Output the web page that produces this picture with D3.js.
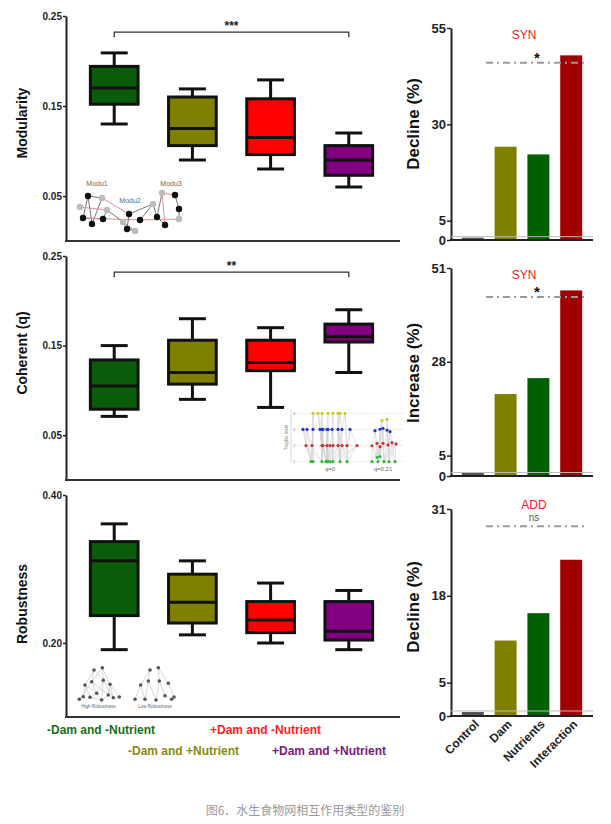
<!DOCTYPE html>
<html>
<head>
<meta charset="utf-8">
<script src="https://cdn.jsdelivr.net/npm/d3@7/dist/d3.min.js"></script>
<style>
  html, body { margin: 0; padding: 0; background: #fff; }
  svg { display: block; font-family: "Liberation Sans", Arial, sans-serif; }
</style>
</head>
<body>
<svg id="chart" width="611" height="824"></svg>
<script>
// ---------------- DATA ----------------
const groups = ["-Dam and -Nutrient", "-Dam and +Nutrient", "+Dam and -Nutrient", "+Dam and +Nutrient"];
const groupColors = ["#0a5c0a", "#808000", "#ff0000", "#800080"];
const legendColors = ["#1a6e1a", "#8a8a10", "#ff2020", "#7a1a7a"];

// box stats: [min, q1, median, q3, max]
const modularityStats = [
  [0.130, 0.152, 0.170, 0.194, 0.209],
  [0.090, 0.106, 0.125, 0.160, 0.169],
  [0.080, 0.096, 0.115, 0.158, 0.179],
  [0.060, 0.073, 0.090, 0.106, 0.120]
];
const coherenceStats = [
  [0.071, 0.079, 0.105, 0.134, 0.150],
  [0.090, 0.107, 0.120, 0.156, 0.180],
  [0.081, 0.122, 0.131, 0.156, 0.170],
  [0.120, 0.154, 0.160, 0.174, 0.190]
];
const robustnessStats = [
  [0.191, 0.237, 0.311, 0.337, 0.361],
  [0.211, 0.227, 0.255, 0.293, 0.311],
  [0.200, 0.214, 0.231, 0.256, 0.281],
  [0.191, 0.204, 0.216, 0.256, 0.271]
];
const modularityTicks = [0.05, 0.15, 0.25];
const coherenceTicks = [0.05, 0.15, 0.25];
const robustnessTicks = [0.20, 0.40];

const treatments = ["Control", "Dam", "Nutrients", "Interaction"];
const treatmentColors = ["#555555", "#808000", "#006000", "#a00000"];
const modularityDecline = [0.6, 24.2, 22.2, 47.9];
const coherenceIncrease = [0.8, 20.1, 24.0, 45.5];
const robustnessDecline = [0.6, 11.3, 15.4, 23.4];
const additiveExpected = [46.0, 43.9, 28.4];
const interactionTypes = ["SYN", "SYN", "ADD"];
const interactionSig = ["*", "*", "ns"];
const modularityBarTicks = [0, 5, 30, 55];
const coherenceBarTicks = [0, 5, 28, 51];
const robustnessBarTicks = [0, 5, 18, 31];

const caption = "图6．水生食物网相互作用类型的鉴别";

// inset pictures (local units)
const moduNodes = [
  [10,14,"b"],[5,36,"b"],[14,42,"b"],[25,37,"b"],[51,32,"b"],[62,38,"b"],[49,47,"b"],
  [79,35,"b"],[87,43,"b"],[97,13,"b"],[101,27,"b"],
  [2,25,"g"],[24,16,"g"],[29,28,"g"],[45,40,"g"],[57,49,"g"],[75,22,"g"],[84,11,"g"],[101,37,"g"]
];
const moduEdges = [
  [0,1,"g"],[0,2,"g"],[0,12,"g"],[12,2,"g"],[11,13,"p"],[12,4,"p"],[1,3,"g"],[1,5,"p"],
  [13,14,"g"],[14,15,"g"],[4,6,"g"],[6,15,"g"],[4,16,"g"],[16,7,"g"],[16,5,"g"],
  [17,8,"p"],[9,10,"g"],[7,8,"g"],[5,18,"p"],[18,10,"g"],[17,7,"g"],[14,6,"g"],[3,13,"g"],[17,9,"p"]
];
const moduLabels = [["Modu1",19,4],["Modu2",52,21],["Modu3",93,4]];

const trophicColors = ["#33bb33", "#cc3333", "#2233cc", "#cccc22"];
// [x, level]
const trophicDots = [
  [33,4],[38,4],[42,4],[48,4],[53,4],[58,4],[60,4],[65,4],
  [23,3],[27,3],[33,3],[40,3],[42,3],[43,3],[47,3],[48,3],[52,3],[58,3],[62,3],[70,3],
  [26,2],[32,2],[42,2],[43,2],[47,2],[50,2],[53,2],[58,2],[62,2],[67,2],[77,2],
  [31,1],[33,1],[42,1],[46,1],[47,1],[48,1],[50,1],[53,1],[60,1],[67,1],
  [102,3.54],[107,3.63],
  [95,2.92],[100,3.01],[103,3.07],[107,2.96],[110,2.86],
  [92,1.99],[97,2.14],[100,1.93],[103,2.14],[108,2.04],[112,2.18],[116,2.10],
  [97,1.27],[100,1.31],[92,1],[98,1],[104,1],[109,1],[115,1]
];
const trophicLevels = [1, 2, 3, 4];
const trophicQ = [["q=0", 50], ["q=0.21", 103]];

const robHighNodes = [[24,15],[32.3,12.7],[15,30],[21.7,26.7],[33.3,25.3],[40,29.3],[26.7,38.3],
  [13.3,41.7],[20,42.3],[38.3,40],[43.3,42.7],[9.3,44.3],[31.7,45],[49.3,42]];
const robHighEdges = [[0,2],[0,3],[0,4],[1,4],[1,5],[1,3],[2,7],[2,8],[2,6],[3,6],[3,9],[4,6],[4,10],
  [5,9],[5,13],[5,10],[6,12],[6,8],[7,11],[8,12],[9,12],[10,13],[3,11],[4,12]];
const robLowNodes = [[80,15],[88.3,12.7],[70.7,30],[78.3,26],[89.3,26],[98.3,28.3],[95,40.7],
  [104,42],[65,44.3],[75,44.3],[86,45],[101.7,44.3]];
const robLowEdges = [[0,2],[0,3],[1,4],[1,5],[2,8],[2,9],[3,9],[4,6],[4,10],[5,7],[6,11],[3,10]];
const robLabels = [["High Robustness", 28.3, 52.5], ["Low Robustness", 85, 52.5]];

// ---------------- DRAW ----------------
const svg = d3.select("#chart");

const leftX = d3.scaleBand().domain(groups).range([63, 400]).paddingInner(0.39).paddingOuter(0.35);
const rightX = d3.scaleBand().domain(treatments).range([451, 593]).paddingInner(0.33).paddingOuter(0.33);

const leftPanels = [
  { stats: modularityStats, ticks: modularityTicks, domain: [0, 0.25], range: [241, 16], label: "Modularity", sig: "***", labelY: 123 },
  { stats: coherenceStats, ticks: coherenceTicks, domain: [0, 0.25], range: [480, 256], label: "Coherent (q)", sig: "**", labelY: 353 },
  { stats: robustnessStats, ticks: robustnessTicks, domain: [0.10, 0.40], range: [717, 495], label: "Robustness", sig: null, labelY: 604 }
];

const axisX = 66;

leftPanels.forEach(p => {
  const y = d3.scaleLinear().domain(p.domain).range(p.range);
  const g = svg.append("g");

  const ax = g.append("g").attr("transform", `translate(${axisX},0)`)
    .call(d3.axisLeft(y).tickValues(p.ticks).tickFormat(d3.format(".2f")).tickSize(3).tickSizeOuter(0).tickPadding(1));
  ax.select(".domain").attr("stroke", "#222").attr("stroke-width", 2);
  ax.selectAll(".tick line").attr("stroke", "#222").attr("stroke-width", 1.5);
  ax.selectAll(".tick text").attr("font-size", 10).attr("font-weight", "bold").attr("fill", "#222")
    .attr("font-family", "'Liberation Sans', Arial, sans-serif");

  g.append("line").attr("x1", axisX - 1).attr("x2", 400)
    .attr("y1", p.range[0]).attr("y2", p.range[0])
    .attr("stroke", "#333").attr("stroke-width", 2);

  g.append("text").attr("transform", `translate(27,${p.labelY}) rotate(-90)`)
    .attr("text-anchor", "middle").attr("font-size", 14).attr("font-weight", "bold").attr("fill", "#111")
    .text(p.label);

  const bw = leftX.bandwidth();
  const capW = 27;
  const boxes = g.selectAll(".box").data(p.stats).enter().append("g");
  boxes.each(function(s, i) {
    const bg = d3.select(this);
    const cx = leftX(groups[i]) + bw / 2;
    const [mn, q1, md, q3, mx] = s;
    bg.append("line").attr("x1", cx).attr("x2", cx).attr("y1", y(mx)).attr("y2", y(q3))
      .attr("stroke", "#111").attr("stroke-width", 3);
    bg.append("line").attr("x1", cx).attr("x2", cx).attr("y1", y(q1)).attr("y2", y(mn))
      .attr("stroke", "#111").attr("stroke-width", 3);
    bg.append("line").attr("x1", cx - capW / 2).attr("x2", cx + capW / 2).attr("y1", y(mx)).attr("y2", y(mx))
      .attr("stroke", "#111").attr("stroke-width", 3);
    bg.append("line").attr("x1", cx - capW / 2).attr("x2", cx + capW / 2).attr("y1", y(mn)).attr("y2", y(mn))
      .attr("stroke", "#111").attr("stroke-width", 3);
    bg.append("rect").attr("x", leftX(groups[i])).attr("width", bw)
      .attr("y", y(q3)).attr("height", y(q1) - y(q3))
      .attr("fill", groupColors[i]).attr("stroke", "#111").attr("stroke-width", 3);
    bg.append("line").attr("x1", leftX(groups[i])).attr("x2", leftX(groups[i]) + bw)
      .attr("y1", y(md)).attr("y2", y(md)).attr("stroke", "#111").attr("stroke-width", 3);
  });

  if (p.sig) {
    const x1 = leftX(groups[0]) + bw / 2, x2 = leftX(groups[3]) + bw / 2;
    const yb = y(0.232);
    g.append("path").attr("d", `M${x1},${yb + 5}V${yb}H${x2}V${yb + 5}`)
      .attr("fill", "none").attr("stroke", "#333").attr("stroke-width", 1.3);
    g.append("text").attr("x", (x1 + x2) / 2).attr("y", yb - 2).attr("text-anchor", "middle")
      .attr("font-size", 12).attr("font-weight", "bold").attr("fill", "#222").text(p.sig);
  }
});

// ---- inset 1: modularity network ----
(function() {
  const sx = d3.scaleLinear().domain([0, 1]).range([78, 79]);
  const sy = d3.scaleLinear().domain([0, 1]).range([182, 183]);
  const g = svg.append("g");
  g.selectAll("line").data(moduEdges).enter().append("line")
    .attr("x1", d => sx(moduNodes[d[0]][0])).attr("y1", d => sy(moduNodes[d[0]][1]))
    .attr("x2", d => sx(moduNodes[d[1]][0])).attr("y2", d => sy(moduNodes[d[1]][1]))
    .attr("stroke", d => d[2] === "p" ? "#e09090" : "#777").attr("stroke-width", 1);
  g.selectAll("circle").data(moduNodes).enter().append("circle")
    .attr("cx", d => sx(d[0])).attr("cy", d => sy(d[1])).attr("r", 3.2)
    .attr("fill", d => d[2] === "b" ? "#111" : "#bbb");
  g.selectAll("text").data(moduLabels).enter().append("text")
    .attr("x", d => sx(d[1])).attr("y", d => sy(d[2])).attr("text-anchor", "middle")
    .attr("font-size", 7).attr("fill", "#666").text(d => d[0]);
})();

// ---- inset 2: trophic levels ----
(function() {
  const sx = d3.scaleLinear().domain([0, 1]).range([280, 281]);
  const sy = d3.scaleLinear().domain([1, 4]).range([461.7, 413.3]);
  const g = svg.append("g");
  g.selectAll(".lvl").data(trophicLevels).enter().append("line")
    .attr("x1", sx(17)).attr("x2", sx(123)).attr("y1", d => sy(d)).attr("y2", d => sy(d))
    .attr("stroke", "#ddd").attr("stroke-width", 0.8).attr("stroke-dasharray", "2,1");
  const clusterOf = d => d[0] > 85 ? 1 : 0;
  const edges = [];
  trophicDots.forEach(d => {
    const lower = trophicDots.filter(e => clusterOf(e) === clusterOf(d) && e[1] < d[1] - 0.5);
    if (lower.length) {
      const nearest = lower.slice().sort((a, b) => Math.abs(a[0] - d[0]) - Math.abs(b[0] - d[0]));
      nearest.slice(0, 3).forEach(e => edges.push([d, e]));
    }
  });
  g.selectAll(".edge").data(edges).enter().append("line")
    .attr("x1", d => sx(d[0][0])).attr("y1", d => sy(d[0][1]))
    .attr("x2", d => sx(d[1][0])).attr("y2", d => sy(d[1][1]))
    .attr("stroke", "#ccc").attr("stroke-width", 0.5);
  g.selectAll(".dot").data(trophicDots).enter().append("circle")
    .attr("cx", d => sx(d[0])).attr("cy", d => sy(d[1])).attr("r", 1.6)
    .attr("fill", d => trophicColors[Math.max(0, Math.min(3, Math.round(d[1]) - 1))]);
  g.selectAll(".tl").data(trophicLevels).enter().append("text")
    .attr("x", sx(14)).attr("y", d => sy(d) + 1.5).attr("text-anchor", "middle")
    .attr("font-size", 4).attr("fill", "#777").text(d => d);
  g.append("text").attr("transform", `translate(${sx(8)},${sy(2.5)}) rotate(-90)`)
    .attr("text-anchor", "middle").attr("font-size", 4.5).attr("fill", "#777").text("Trophic level");
  g.append("line").attr("x1", sx(11)).attr("x2", sx(11)).attr("y1", sy(4.2)).attr("y2", sy(1))
    .attr("stroke", "#aaa").attr("stroke-width", 0.5);
  g.selectAll(".q").data(trophicQ).enter().append("text")
    .attr("x", d => sx(d[1])).attr("y", sy(1) + 9).attr("text-anchor", "middle")
    .attr("font-size", 6).attr("fill", "#666").text(d => d[0]);
})();

// ---- inset 3: robustness networks ----
(function() {
  const sx = d3.scaleLinear().domain([0, 1]).range([70, 71]);
  const sy = d3.scaleLinear().domain([0, 1]).range([655, 656]);
  const g = svg.append("g");
  const drawNet = (nodes, edges) => {
    g.append("g").selectAll("line").data(edges).enter().append("line")
      .attr("x1", d => sx(nodes[d[0]][0])).attr("y1", d => sy(nodes[d[0]][1]))
      .attr("x2", d => sx(nodes[d[1]][0])).attr("y2", d => sy(nodes[d[1]][1]))
      .attr("stroke", "#bbb").attr("stroke-width", 0.6);
    g.append("g").selectAll("circle").data(nodes).enter().append("circle")
      .attr("cx", d => sx(d[0])).attr("cy", d => sy(d[1])).attr("r", 1.8).attr("fill", "#555");
  };
  drawNet(robHighNodes, robHighEdges);
  drawNet(robLowNodes, robLowEdges);
  g.selectAll("text").data(robLabels).enter().append("text")
    .attr("x", d => sx(d[1])).attr("y", d => sy(d[2])).attr("text-anchor", "middle")
    .attr("font-size", 4.5).attr("fill", "#666").text(d => d[0]);
})();

// ---- legend ----
const legendPos = [[47, 734], [128, 755], [210, 734], [272, 755]];
svg.selectAll(".legend").data(groups).enter().append("text")
  .attr("x", (d, i) => legendPos[i][0]).attr("y", (d, i) => legendPos[i][1])
  .attr("font-size", 12).attr("font-weight", "bold").attr("fill", (d, i) => legendColors[i])
  .text(d => d);

// ---------------- RIGHT PANELS ----------------
const rightPanels = [
  { values: modularityDecline, ticks: modularityBarTicks, domain: [0, 55], range: [240, 28], label: "Decline (%)", labelY: 124 },
  { values: coherenceIncrease, ticks: coherenceBarTicks, domain: [0, 51], range: [476, 268], label: "Increase (%)", labelY: 373 },
  { values: robustnessDecline, ticks: robustnessBarTicks, domain: [0, 31], range: [716, 509], label: "Decline (%)", labelY: 607 }
];

rightPanels.forEach((p, k) => {
  const y = d3.scaleLinear().domain(p.domain).range(p.range);
  const g = svg.append("g");
  const ax = g.append("g").attr("transform", "translate(451,0)")
    .call(d3.axisLeft(y).tickValues(p.ticks).tickSize(4).tickSizeOuter(0).tickPadding(1));
  ax.select(".domain").attr("stroke", "#222").attr("stroke-width", 2);
  ax.selectAll(".tick line").attr("stroke", "#222").attr("stroke-width", 1.5);
  ax.selectAll(".tick text").attr("font-size", 13).attr("font-weight", "bold").attr("fill", "#222")
    .attr("font-family", "'Liberation Sans', Arial, sans-serif");

  g.selectAll(".bar").data(p.values).enter().append("rect")
    .attr("x", (d, i) => rightX(treatments[i])).attr("width", rightX.bandwidth())
    .attr("y", d => y(d)).attr("height", d => y(0) - y(d))
    .attr("fill", (d, i) => treatmentColors[i]);

  g.append("line").attr("x1", 451).attr("x2", 593).attr("y1", y(0.6) - 1).attr("y2", y(0.6) - 1)
    .attr("stroke", "#bbb").attr("stroke-width", 1);

  g.append("line").attr("x1", 450).attr("x2", 593).attr("y1", y(0)).attr("y2", y(0))
    .attr("stroke", "#222").attr("stroke-width", 2);

  const ye = y(additiveExpected[k]);
  g.append("line").attr("x1", 486).attr("x2", 584).attr("y1", ye).attr("y2", ye)
    .attr("stroke", "#999").attr("stroke-width", 2).attr("stroke-dasharray", "7,4,2,4");

  const tx = 534;
  const typeY = Math.min(y(p.domain[1]) + 11, ye - 17);
  g.append("text").attr("x", interactionSig[k] === "ns" ? tx : tx - 10).attr("y", typeY).attr("text-anchor", "middle")
    .attr("font-size", 12).attr("fill", "#e8202a").text(interactionTypes[k]);
  if (interactionSig[k] === "ns") {
    g.append("text").attr("x", tx).attr("y", ye - 5).attr("text-anchor", "middle")
      .attr("font-size", 10).attr("fill", "#555").text("ns");
  } else {
    g.append("text").attr("x", tx + 3).attr("y", ye).attr("text-anchor", "middle")
      .attr("font-size", 15).attr("font-weight", "bold").attr("fill", "#111").text(interactionSig[k]);
  }

  g.append("text").attr("transform", `translate(419,${p.labelY}) rotate(-90)`)
    .attr("text-anchor", "middle").attr("font-size", 17).attr("font-weight", "bold").attr("fill", "#111")
    .text(p.label);

  if (k === 2) {
    g.selectAll(".xl").data(treatments).enter().append("text")
      .attr("transform", d => `translate(${rightX(d) + rightX.bandwidth() / 2 + 7},${y(0) + 9}) rotate(-45)`)
      .attr("text-anchor", "end").attr("font-size", 12).attr("font-weight", "bold").attr("fill", "#222")
      .text(d => d);
  }
});

// caption
svg.append("text").attr("x", 305).attr("y", 815).attr("text-anchor", "middle")
  .attr("font-family", "'Noto Sans CJK SC', sans-serif").attr("font-size", 12).attr("fill", "#999")
  .text(caption);
</script>
</body>
</html>
